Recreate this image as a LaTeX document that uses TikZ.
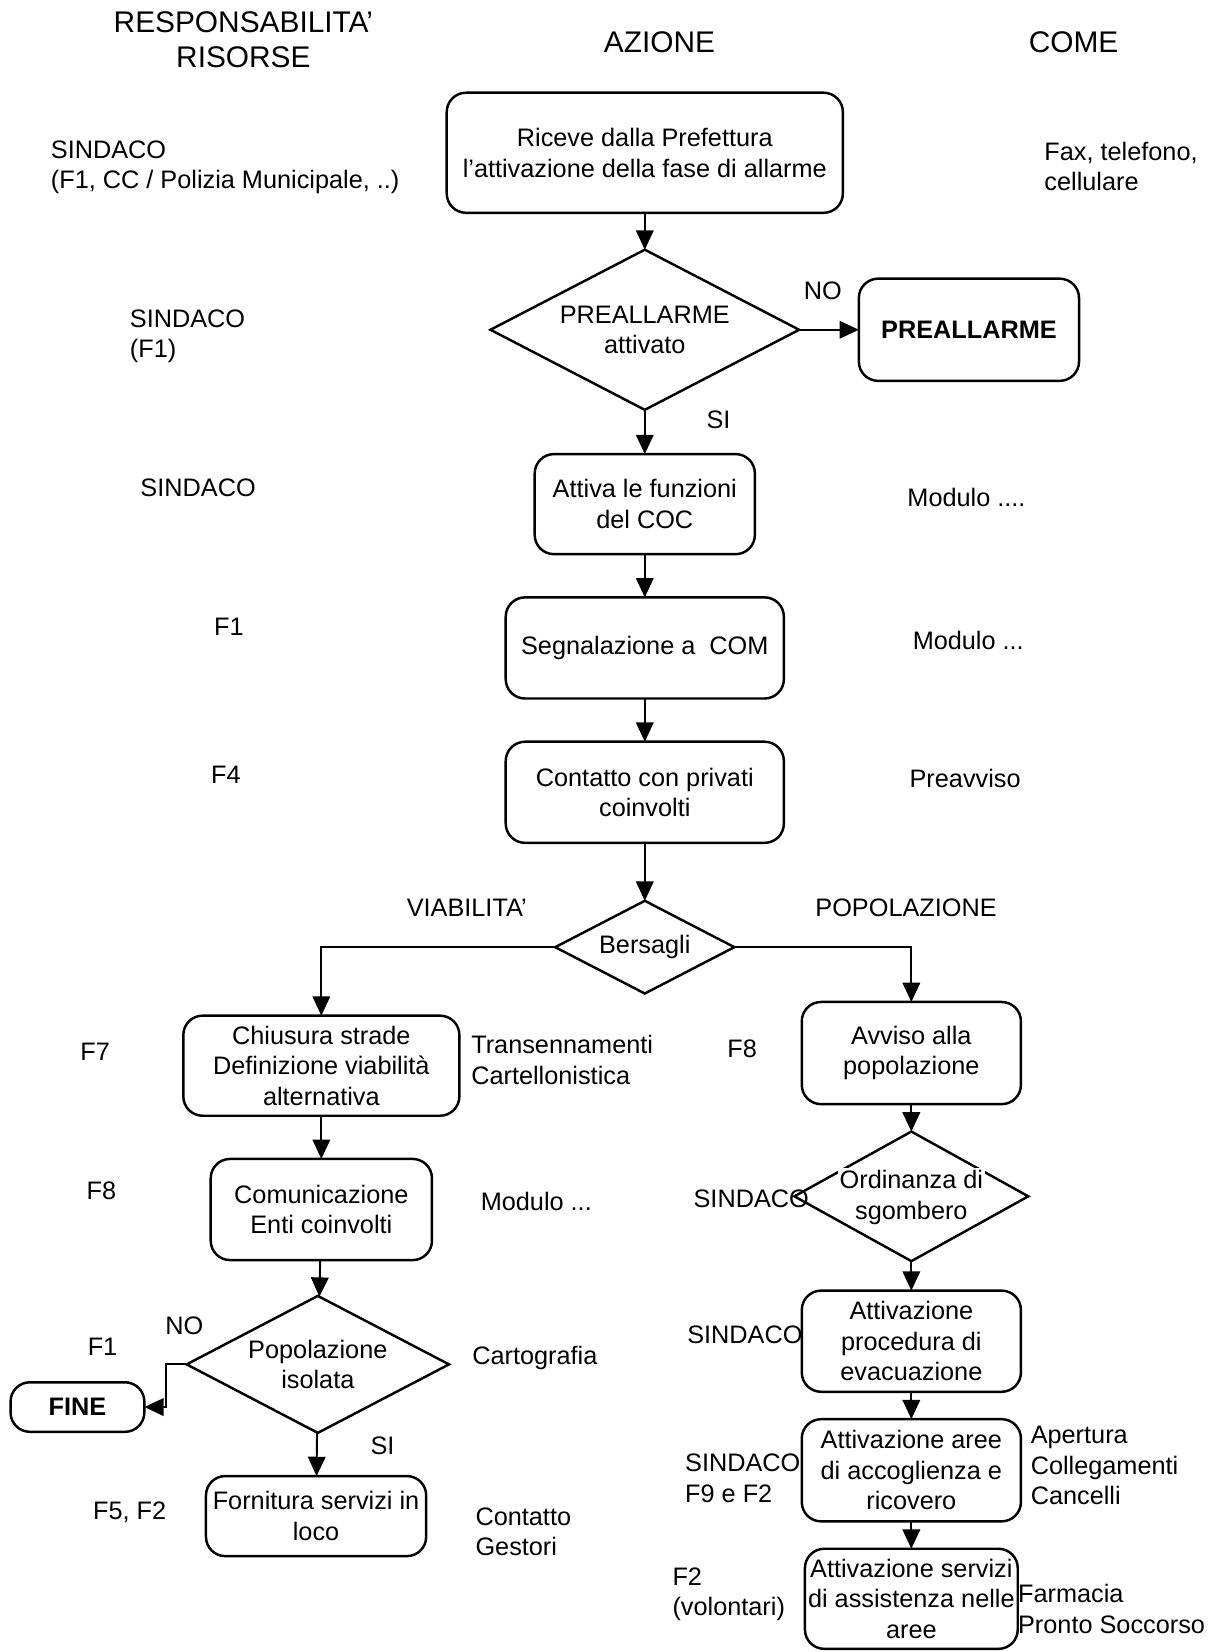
\documentclass[tikz,border=0pt]{standalone}
\usepackage{fontspec}
\setmainfont{Liberation Sans}
\usetikzlibrary{arrows.meta}
\usetikzlibrary{positioning}
\usetikzlibrary{shapes.geometric}
\tikzset{
  every node/.style={font=\fontsize{14.4}{17.4}\selectfont, inner sep=0pt},
  boxsize/.style 2 args={minimum width=#1*0.6pt, minimum height=#2*0.6pt},
  block/.style={draw, rounded corners=11pt, line width=1.4pt, outer sep=0pt, align=center},
  decision/.style={draw, diamond, aspect=1.9, line width=1.4pt, outer sep=0pt, align=center},
  header/.style={font=\fontsize{17}{19.8}\selectfont, align=center},
  side/.style={anchor=west, align=left},
  arrow/.style={-{Triangle[length=11pt,width=10pt]}, line width=1.1pt}
}

\begin{document}
\begin{tikzpicture}[x=0.6pt, y=-0.6pt]
  \useasboundingbox (0,0) rectangle (1150,1568);

  % column titles
  \node[header] (hResp) at (231,38) {RESPONSABILITA'\\RISORSE};
  \node[header] (hAzione) at (626,40) {AZIONE};
  \node[header] (hCome) at (1019,40) {COME};

  % main column
  \node[block, boxsize={376}{114}] (bRiceve) at (612,145)
    {Riceve dalla Prefettura\\l'attivazione della fase di allarme};
  \node[decision, boxsize={293}{152}, below=21pt of bRiceve] (dPre) {PREALLARME\\attivato};
  \node[block, boxsize={209}{97}, right=34pt of dPre] (bPre) {\textbf{PREALLARME}};
  \node[block, boxsize={209}{95}, below=25.2pt of dPre] (bCoc) {Attiva le funzioni\\del COC};
  \node[block, boxsize={264}{96}, below=24.6pt of bCoc] (bCom) {Segnalazione a\ \ COM};
  \node[block, boxsize={264}{96}, below=24.6pt of bCom] (bPriv) {Contatto con privati\\coinvolti};
  \node[decision, boxsize={170}{88}, below=33pt of bPriv] (dBers) {Bersagli};

  % viabilita'
  \node[block, boxsize={262}{95}] (bStrade) at (305,1011.5)
    {Chiusura strade\\Definizione viabilità\\alternativa};
  \node[block, boxsize={210}{96}, below=24.6pt of bStrade] (bEnti) {Comunicazione\\Enti coinvolti};
  \node[decision, boxsize={249}{130}, below=20.4pt of bEnti, xshift=-2pt] (dIso) {Popolazione\\isolata};
  \node[block, boxsize={127}{47}] (bFine) at (73.5,1335.5) {\textbf{FINE}};
  \node[block, boxsize={209}{76}, below=24.6pt of dIso, xshift=-1pt] (bLoco) {Fornitura servizi in\\loco};

  % popolazione
  \node[block, boxsize={208}{97}] (bAvviso) at (865,999.5) {Avviso alla\\popolazione};
  \node[decision, boxsize={222}{123}, below=15.6pt of bAvviso] (dOrd) {};
  \node[align=center] (tOrd) at (dOrd)
    {\setlength{\fboxsep}{1pt}\colorbox{white}{Ordinanza di}\\sgombero};
  \node[block, boxsize={208}{96}, below=16.8pt of dOrd] (bEvac) {Attivazione\\procedura di\\evacuazione};
  \node[block, boxsize={208}{97}, below=15.6pt of bEvac] (bAree) {Attivazione aree\\di accoglienza e\\ricovero};
  \node[block, boxsize={202}{95}, below=15.6pt of bAree] (bServ) {Attivazione servizi\\di assistenza nelle\\aree};

  % responsabilita'
  \node[side] (lSind1) at (48,159) {SINDACO\\(F1, CC / Polizia Municipale, ..)};
  \node[side] (lSind2) at (123,319) {SINDACO\\(F1)};
  \node[side] (lSind3) at (133,463) {SINDACO};
  \node[side] (lF1a) at (203,595) {F1};
  \node[side] (lF4) at (200,735) {F4};
  \node[side] (lF7) at (76,998) {F7};
  \node[side] (lF8a) at (82,1130) {F8};
  \node[side] (lF1b) at (83,1278) {F1};
  \node[side] (lF5) at (88,1435) {F5, F2};
  \node[side] (lF8b) at (690,995) {F8};
  \node[side] (lSind4) at (658,1138) {SINDACO};
  \node[side] (lSind5) at (652,1267) {SINDACO};
  \node[side] (lSind6) at (650,1403) {SINDACO\\F9 e F2};
  \node[side] (lF2) at (638,1513) {F2\\(volontari)};

  % come
  \node[side] (rFax) at (991,158) {Fax, telefono,\\cellulare};
  \node[side] (rMod1) at (861,472) {Modulo ....};
  \node[side] (rMod2) at (866,608) {Modulo ...};
  \node[side] (rPreav) at (863,739) {Preavviso};
  \node[side] (rTrans) at (447,1006) {Transennamenti\\Cartellonistica};
  \node[side] (rMod3) at (456,1140) {Modulo ...};
  \node[side] (rCarto) at (448,1289) {Cartografia};
  \node[side] (rGest) at (451,1454) {Contatto\\Gestori};
  \node[side] (rApert) at (978,1391) {Apertura\\Collegamenti\\Cancelli};
  \node[side] (rFarm) at (966,1527) {Farmacia\\Pronto Soccorso};

  % branch labels
  \node (tNo1) at (781,276) {NO};
  \node (tSi1) at (682,398) {SI};
  \node (tViab) at (443,862) {VIABILITA'};
  \node (tPopol) at (860,862) {POPOLAZIONE};
  \node (tNo2) at (175,1258) {NO};
  \node (tSi2) at (363,1372) {SI};

  % connectors
  \draw[arrow] (bRiceve) -- (dPre);
  \draw[arrow] (dPre) -- (bPre);
  \draw[arrow] (dPre) -- (bCoc);
  \draw[arrow] (bCoc) -- (bCom);
  \draw[arrow] (bCom) -- (bPriv);
  \draw[arrow] (bPriv) -- (dBers);
  \draw[arrow] (dBers.west) -| (bStrade);
  \draw[arrow] (dBers.east) -| (bAvviso);
  \draw[arrow] (bStrade) -- (bEnti);
  \draw[arrow] (bEnti) -- (dIso);
  \draw[arrow] (dIso.west) -- ++(-20,0) |- (bFine);
  \draw[arrow] (dIso) -- (bLoco);
  \draw[arrow] (bAvviso) -- (dOrd);
  \draw[arrow] (dOrd) -- (bEvac);
  \draw[arrow] (bEvac) -- (bAree);
  \draw[arrow] (bAree) -- (bServ);
\end{tikzpicture}
\end{document}
